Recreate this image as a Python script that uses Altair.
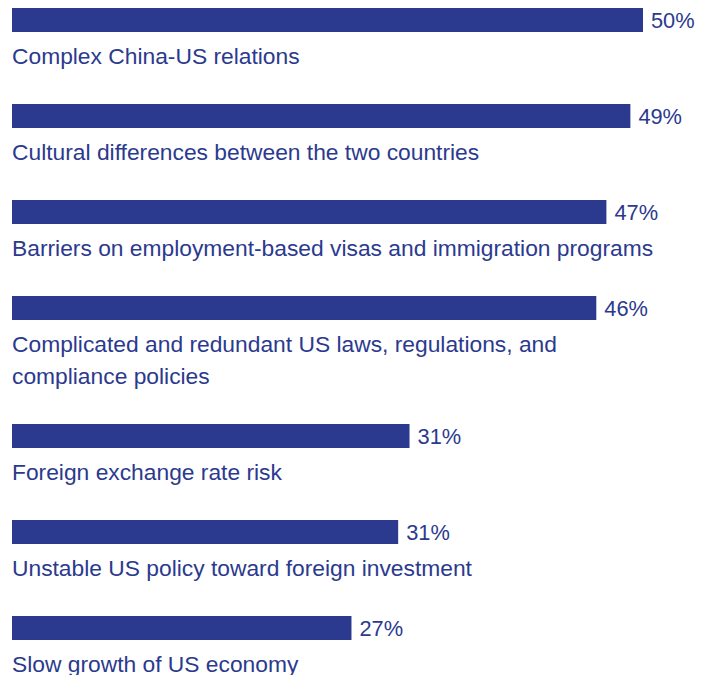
import altair as alt
import pandas as pd

categories = [
    "Complex China-US relations",
    "Cultural differences between the two countries",
    "Barriers on employment-based visas and immigration programs",
    "Complicated and redundant US laws, regulations, and\ncompliance policies",
    "Foreign exchange rate risk",
    "Unstable US policy toward foreign investment",
    "Slow growth of US economy",
]
values = [50, 49, 47.1, 46.3, 31.5, 30.6, 26.9]
value_labels = ["50%", "49%", "47%", "46%", "31%", "31%", "27%"]

COLOR = "#2B3A8E"
FONT = "Liberation Sans"
FS_LABEL = 22.8
FS_VALUE = 21.8

df = pd.DataFrame({
    "idx": list(range(len(categories))),
    "category": categories,
    "value": values,
    "vlabel": value_labels,
})

xscale = alt.Scale(domain=[0, 50], nice=False, zero=True)

panels = []
for i, cat in enumerate(categories):
    nlines = cat.count("\n") + 1
    h = 64 + 32 * nlines
    base = alt.Chart(df).transform_filter(alt.datum.idx == i)
    bar = base.mark_rect(color=COLOR).encode(
        x=alt.X("value:Q", scale=xscale, axis=None),
        x2=alt.datum(0),
        y=alt.value(0),
        y2=alt.value(24),
    )
    vtext = base.mark_text(
        align="left", baseline="middle", dx=8, font=FONT, fontSize=FS_VALUE, color=COLOR
    ).encode(
        x=alt.X("value:Q", scale=xscale, axis=None),
        y=alt.value(12.5),
        text="vlabel:N",
    )
    ltext = base.mark_text(
        align="left", baseline="alphabetic", font=FONT, fontSize=FS_LABEL, color=COLOR,
        lineBreak="\n", lineHeight=32,
    ).encode(
        x=alt.value(0),
        y=alt.value(55.5),
        text="category:N",
    )
    panels.append(alt.layer(bar, vtext, ltext).properties(width=631, height=h))

chart = alt.vconcat(*panels, spacing=0).properties(
    padding={"left": 4, "top": 0, "right": 0, "bottom": 0}
).configure(background="white").configure_view(stroke=None, strokeWidth=0)

chart.save("out.html", embed_options={"renderer": "svg", "actions": False})
